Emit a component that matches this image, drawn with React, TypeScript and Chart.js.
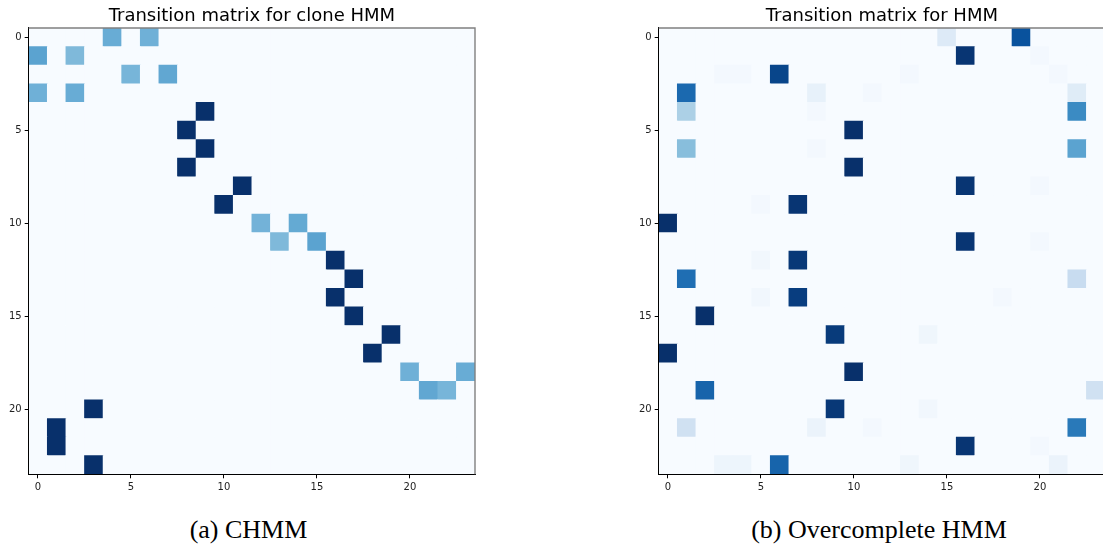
import React, { useEffect, useRef } from 'react';
import { Chart, registerables } from 'chart.js';

Chart.register(...registerables);

// state indices (rows = from-state, columns = to-state)
const states = [0, 1, 2, 3, 4, 5, 6, 7, 8, 9, 10, 11, 12, 13, 14, 15, 16, 17, 18, 19, 20, 21, 22, 23];
const tickValues = [0, 5, 10, 15, 20];

// non-zero transition probabilities [row, col, value]
const chmmCells: [number, number, number][] = [
  [0, 4, 0.51], [0, 6, 0.49],
  [1, 0, 0.55], [1, 2, 0.45],
  [2, 5, 0.47], [2, 7, 0.53],
  [3, 0, 0.49], [3, 2, 0.51],
  [4, 9, 1.0],
  [5, 8, 1.0],
  [6, 9, 1.0],
  [7, 8, 1.0],
  [8, 11, 1.0],
  [9, 10, 1.0],
  [10, 12, 0.48], [10, 14, 0.52],
  [11, 13, 0.45], [11, 15, 0.55],
  [12, 16, 1.0],
  [13, 17, 1.0],
  [14, 16, 1.0],
  [15, 17, 1.0],
  [16, 19, 1.0],
  [17, 18, 1.0],
  [18, 20, 0.49], [18, 23, 0.51],
  [19, 21, 0.53], [19, 22, 0.47],
  [20, 3, 1.0],
  [21, 1, 1.0],
  [22, 1, 1.0],
  [23, 3, 1.0],
];

const hmmCells: [number, number, number][] = [
  [0, 15, 0.13], [0, 19, 0.87],
  [1, 16, 0.98], [1, 20, 0.02],
  [2, 3, 0.02], [2, 4, 0.02], [2, 6, 0.92], [2, 13, 0.02], [2, 21, 0.02],
  [3, 1, 0.78], [3, 8, 0.08], [3, 11, 0.02], [3, 22, 0.12],
  [4, 1, 0.33], [4, 8, 0.02], [4, 22, 0.65],
  [5, 10, 1.0],
  [6, 1, 0.43], [6, 8, 0.02], [6, 22, 0.55],
  [7, 10, 1.0],
  [8, 16, 0.98], [8, 20, 0.02],
  [9, 5, 0.02], [9, 7, 0.98],
  [10, 0, 1.0],
  [11, 16, 0.98], [11, 20, 0.02],
  [12, 5, 0.03], [12, 7, 0.97],
  [13, 1, 0.76], [13, 22, 0.24],
  [14, 5, 0.03], [14, 7, 0.95], [14, 18, 0.02],
  [15, 2, 1.0],
  [16, 9, 0.96], [16, 14, 0.04],
  [17, 0, 1.0],
  [18, 10, 1.0],
  [19, 2, 0.8], [19, 23, 0.2],
  [20, 9, 0.97], [20, 14, 0.03],
  [21, 1, 0.2], [21, 8, 0.06], [21, 11, 0.02], [21, 22, 0.72],
  [22, 16, 0.98], [22, 20, 0.02],
  [23, 3, 0.05], [23, 4, 0.05], [23, 6, 0.8], [23, 13, 0.04], [23, 21, 0.06],
];

const BLUES = ['#f7fbff', '#deebf7', '#c6dbef', '#9ecae1', '#6baed6', '#4292c6', '#2171b5', '#08519c', '#08306b'];

function hexToRgb(h: string) {
  return [parseInt(h.slice(1, 3), 16), parseInt(h.slice(3, 5), 16), parseInt(h.slice(5, 7), 16)];
}

function blues(t: number) {
  const tt = Math.max(0, Math.min(1, t));
  const pos = tt * (BLUES.length - 1);
  const i = Math.min(BLUES.length - 2, Math.floor(pos));
  const f = pos - i;
  const a = hexToRgb(BLUES[i]);
  const b = hexToRgb(BLUES[i + 1]);
  const c = a.map((v, k) => Math.round(v + (b[k] - v) * f));
  return `rgb(${c[0]},${c[1]},${c[2]})`;
}

function buildDataset(cells: [number, number, number][]) {
  const lookup = new Map<string, number>();
  cells.forEach(([r, c, v]) => lookup.set(`${r}-${c}`, v));
  const vmax = Math.max(...cells.map((c) => c[2]));
  const data: { x: number; y: [number, number] }[] = [];
  const colors: string[] = [];
  for (const r of states) {
    for (const c of states) {
      const v = lookup.get(`${r}-${c}`) || 0;
      data.push({ x: c, y: [r - 0.5, r + 0.5] });
      colors.push(blues(v / vmax));
    }
  }
  return { data, colors };
}

const framePlugin = {
  id: 'frame',
  afterDraw(chart: any) {
    const { ctx, chartArea: a } = chart;
    ctx.save();
    ctx.strokeStyle = '#808080';
    ctx.lineWidth = 1.4;
    ctx.beginPath();
    ctx.moveTo(a.left, a.top);
    ctx.lineTo(a.right, a.top);
    ctx.lineTo(a.right, a.bottom);
    ctx.stroke();
    ctx.restore();
  },
};

const CANVAS_W = 480;
const CANVAS_H = 500;

function Heatmap({ cells, title, left }: { cells: [number, number, number][]; title: string; left: number }) {
  const ref = useRef<HTMLCanvasElement | null>(null);
  useEffect(() => {
    if (!ref.current) return;
    const { data, colors } = buildDataset(cells);
    const setTicks = (scale: any) => {
      scale.ticks = tickValues.map((v) => ({ value: v }));
    };
    const tickFont = { family: 'DejaVu Sans', size: 10 };
    const chart = new Chart(ref.current, {
      type: 'bar',
      data: {
        datasets: [
          {
            data: data as any,
            backgroundColor: colors,
            borderWidth: 0,
            barPercentage: 1,
            categoryPercentage: 1,
          },
        ],
      },
      options: {
        responsive: false,
        animation: false,
        events: [],
        layout: { padding: { left: 0, right: 5, top: 0, bottom: CANVAS_H - 474.3 - 25 } },
        plugins: {
          legend: { display: false },
          tooltip: { enabled: false },
          title: {
            display: true,
            text: title,
            fullSize: false,
            color: '#000',
            font: { family: 'DejaVu Sans', size: 18, weight: 'normal', lineHeight: 1.2 },
            padding: { top: 5.8, bottom: 0.6 },
          },
        },
        scales: {
          x: {
            type: 'linear',
            min: -0.5,
            max: 23.5,
            offset: false,
            afterBuildTicks: setTicks,
            afterFit: (s: any) => {
              s.height = 25;
            },
            grid: { display: true, offset: false, drawOnChartArea: false, drawTicks: true, tickLength: 4, color: '#000', z: 1 },
            border: { display: true, color: '#000', width: 1, z: 1 },
            ticks: { color: '#222', font: tickFont, padding: 3, maxRotation: 0, autoSkip: false, callback: (v: any) => String(v) },
          },
          y: {
            type: 'linear',
            min: -0.5,
            max: 23.5,
            reverse: true,
            beginAtZero: false,
            afterBuildTicks: setTicks,
            afterFit: (s: any) => {
              s.width = 28.7;
            },
            grid: { display: true, drawOnChartArea: false, drawTicks: true, tickLength: 4, color: '#000', z: 1 },
            border: { display: true, color: '#000', width: 1, z: 1 },
            ticks: { color: '#222', font: tickFont, padding: 3, autoSkip: false, callback: (v: any) => String(v) },
          },
        },
      } as any,
      plugins: [framePlugin],
    });
    return () => chart.destroy();
  }, [cells, title]);
  return (
    <canvas
      ref={ref}
      width={CANVAS_W}
      height={CANVAS_H}
      style={{ position: 'absolute', left, top: 0, width: CANVAS_W, height: CANVAS_H }}
    />
  );
}

const captionStyle: React.CSSProperties = {
  position: 'absolute',
  top: 514.5,
  width: 400,
  textAlign: 'center',
  fontFamily: '"Liberation Serif", "Times New Roman", serif',
  fontSize: 26,
  lineHeight: '30px',
  color: '#000',
  whiteSpace: 'nowrap',
};

export default function App() {
  return (
    <div
      style={{
        position: 'fixed',
        left: 0,
        top: 0,
        width: 1103,
        height: 544,
        overflow: 'hidden',
        background: '#fff',
      }}
    >
      <Heatmap cells={chmmCells} title="Transition matrix for clone HMM" left={0} />
      <Heatmap cells={hmmCells} title="Transition matrix for HMM" left={630} />
      <div style={{ ...captionStyle, left: 248.5 - 200 }}>(a) CHMM</div>
      <div style={{ ...captionStyle, left: 879 - 200 }}>(b) Overcomplete HMM</div>
    </div>
  );
}
